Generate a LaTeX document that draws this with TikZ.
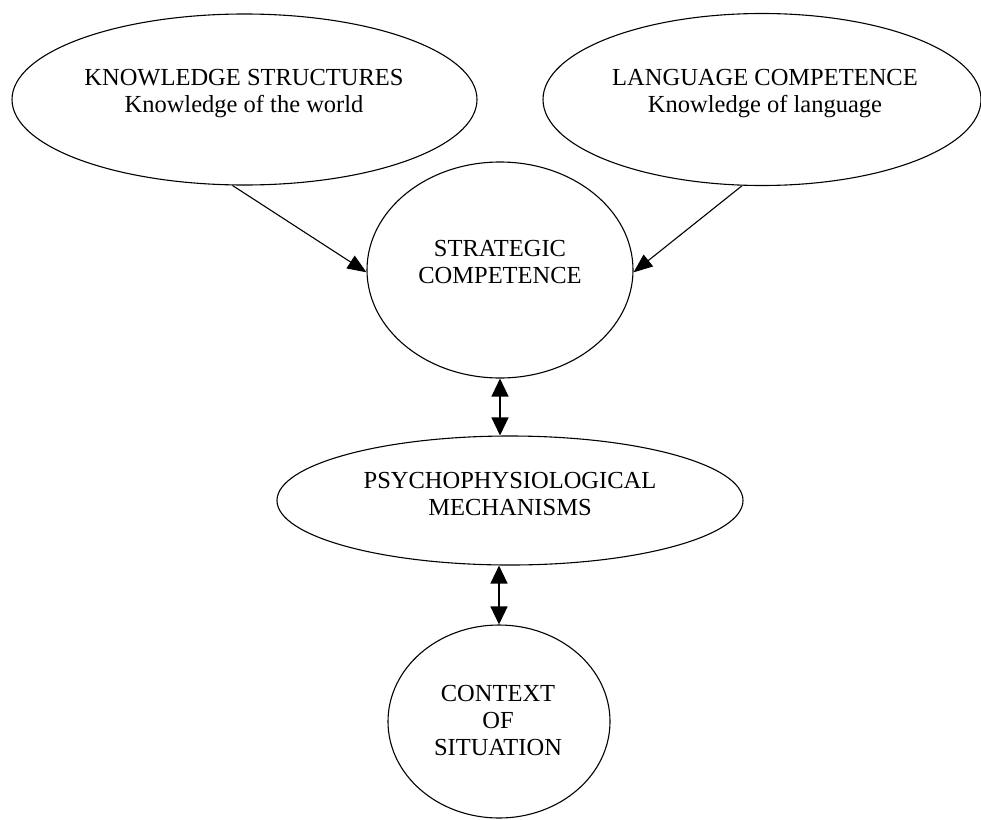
\documentclass[tikz,border=0pt]{standalone}
\usepackage{fontspec}
\setmainfont{Liberation Serif}
\usetikzlibrary{shapes.geometric,arrows.meta}
\begin{document}
\begin{tikzpicture}[x=1pt,y=-1pt,
  shapebox/.style={draw=black,line width=1.1pt,ellipse,inner sep=0pt},
  lbl/.style={align=center,inner sep=0pt,font=\fontsize{24.5}{27}\selectfont},
  conn/.style={line width=1.1pt,-{Triangle[length=19pt,width=15pt]}},
  biconn/.style={line width=1.4pt,{Triangle[length=18pt,width=17pt]}-{Triangle[length=18pt,width=17pt]}}]
\useasboundingbox (0,0) rectangle (981,819);
\node[shapebox,minimum width=465pt,minimum height=171pt] (k) at (244.5,99.5) {};
\node[shapebox,minimum width=438pt,minimum height=172pt] (l) at (762,99.5) {};
\node[shapebox,minimum width=266pt,minimum height=216pt] (s) at (500,270) {};
\node[shapebox,minimum width=466pt,minimum height=129pt] (p) at (510,500.5) {};
\node[shapebox,minimum width=222pt,minimum height=193pt] (c) at (499,721.5) {};
\node[lbl] (kt) at (244,94) {KNOWLEDGE STRUCTURES\\Knowledge of the world};
\node[lbl] (lt) at (765,94) {LANGUAGE COMPETENCE\\Knowledge of language};
\node[lbl] (st) at (500,262) {STRATEGIC\\COMPETENCE};
\node[lbl] (pt) at (510,493.5) {PSYCHOPHYSIOLOGICAL\\MECHANISMS};
\node[lbl] (ct) at (498,720) {CONTEXT\\OF\\SITUATION};
\draw[conn] (k.-98) -- (s.181);
\draw[conn] (l.-103) -- (s.-1);
\draw[biconn] (s.south) -- (s.south |- p.north);
\draw[biconn] (p.south -| c.north) -- (c.north);
\end{tikzpicture}
\end{document}
